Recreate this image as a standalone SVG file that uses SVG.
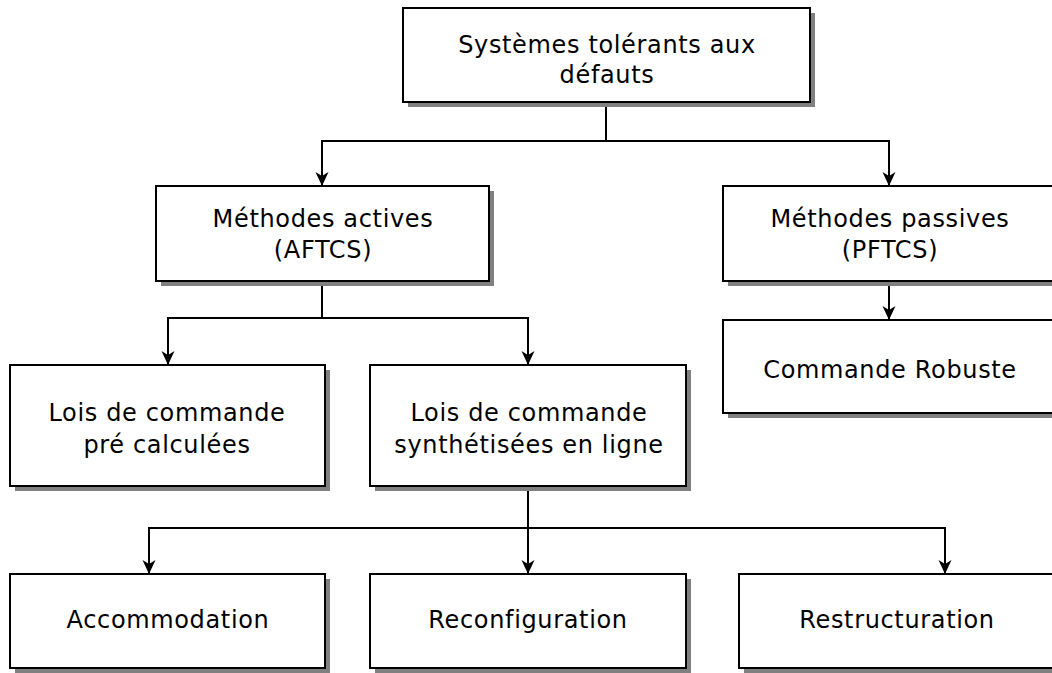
<svg xmlns="http://www.w3.org/2000/svg" width="1052" height="673" viewBox="0 0 1052 673">
<style>
.box{fill:#fff;stroke:#000;stroke-width:2}
.sh{fill:#808080}
.t{font-family:"DejaVu Sans",Verdana,sans-serif;font-size:24px;letter-spacing:0.65px;fill:#000;text-anchor:middle}
.c{fill:none;stroke:#000;stroke-width:2}
</style>
<defs>
<marker id="ar" markerWidth="15" markerHeight="15" refX="14" refY="7.5" orient="auto" markerUnits="userSpaceOnUse" viewBox="0 0 15 15">
<path d="M0,1 L14,7.5 L0,14 L4,7.5 Z" fill="#000"/>
</marker>
</defs>
<rect width="1052" height="673" fill="#fff"/>
<g id="connectors">
<path class="c" d="M606,102 V141 M321,141 H890"/>
<path class="c" d="M322,141 V186" marker-end="url(#ar)"/>
<path class="c" d="M889,141 V186" marker-end="url(#ar)"/>
<path class="c" d="M322,281 V318 M167,318 H529"/>
<path class="c" d="M168,318 V365" marker-end="url(#ar)"/>
<path class="c" d="M528,318 V365" marker-end="url(#ar)"/>
<path class="c" d="M889,281 V320" marker-end="url(#ar)"/>
<path class="c" d="M528,486 V528 M148,528 H946"/>
<path class="c" d="M149,528 V574" marker-end="url(#ar)"/>
<path class="c" d="M528,528 V574" marker-end="url(#ar)"/>
<path class="c" d="M945,528 V574" marker-end="url(#ar)"/>
</g>
<g id="n-root">
<rect class="sh" x="408" y="13" width="407" height="94"/>
<rect class="box" x="403" y="8" width="407" height="94"/>
<text class="t" x="607" y="53">Systèmes tolérants aux</text>
<text class="t" x="607" y="83">défauts</text>
</g>
<g id="n-active">
<rect class="sh" x="161" y="191" width="333" height="95"/>
<rect class="box" x="156" y="186" width="333" height="95"/>
<text class="t" x="323" y="227">Méthodes actives</text>
<text class="t" x="323" y="258">(AFTCS)</text>
</g>
<g id="n-passive">
<rect class="sh" x="728" y="191" width="340" height="95"/>
<rect class="box" x="723" y="186" width="340" height="95"/>
<text class="t" x="890" y="227">Méthodes passives</text>
<text class="t" x="890" y="258">(PFTCS)</text>
</g>
<g id="n-robust">
<rect class="sh" x="728" y="325" width="340" height="93"/>
<rect class="box" x="723" y="320" width="340" height="93"/>
<text class="t" x="890" y="378">Commande Robuste</text>
</g>
<g id="n-precalc">
<rect class="sh" x="15" y="370" width="315" height="121"/>
<rect class="box" x="10" y="365" width="315" height="121"/>
<text class="t" x="167" y="421">Lois de commande</text>
<text class="t" x="167" y="453">pré calculées</text>
</g>
<g id="n-online">
<rect class="sh" x="375" y="370" width="316" height="121"/>
<rect class="box" x="370" y="365" width="316" height="121"/>
<text class="t" x="529" y="421">Lois de commande</text>
<text class="t" x="529" y="453">synthétisées en ligne</text>
</g>
<g id="n-accom">
<rect class="sh" x="15" y="579" width="315" height="94"/>
<rect class="box" x="10" y="574" width="315" height="94"/>
<text class="t" x="168" y="628">Accommodation</text>
</g>
<g id="n-reconf">
<rect class="sh" x="375" y="579" width="316" height="94"/>
<rect class="box" x="370" y="574" width="316" height="94"/>
<text class="t" x="528" y="628">Reconfiguration</text>
</g>
<g id="n-restruct">
<rect class="sh" x="744" y="579" width="330" height="94"/>
<rect class="box" x="739" y="574" width="330" height="94"/>
<text class="t" x="897" y="628">Restructuration</text>
</g>
</svg>
